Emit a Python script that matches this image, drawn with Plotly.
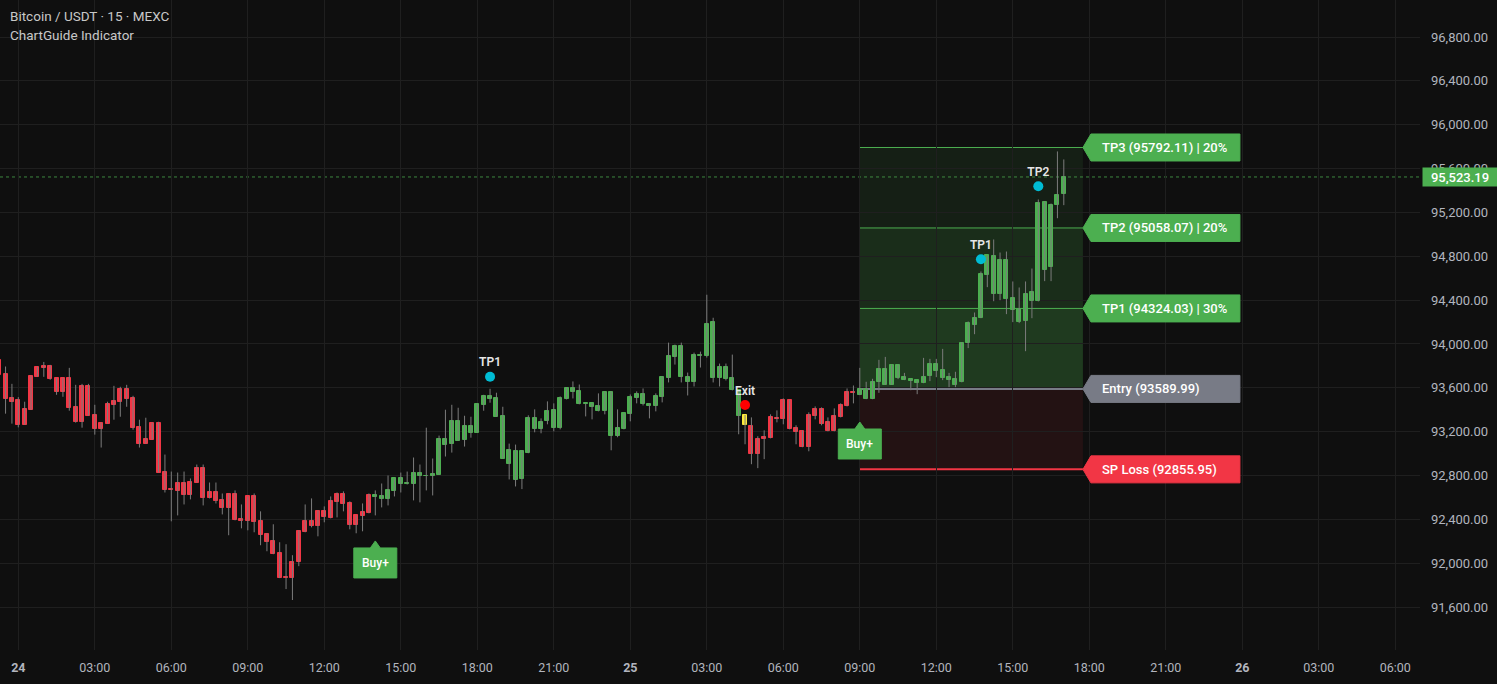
import pandas as pd
import plotly.graph_objects as go

# ---------------- data ----------------
FIRST_BAR = pd.Timestamp("2025-04-23 23:15")   # first (partly visible) 15-min bar
DAY0 = pd.Timestamp("2025-04-24 00:00")

opens = [93855, 93727, 93509, 93491, 93264, 93400, 93700, 93782, 93800, 93691, 93564, 93691,
         93427, 93291, 93618, 93355, 93227, 93273, 93445, 93473, 93591, 93509, 93245, 93091,
         93127, 93282, 92836, 92664, 92655, 92736, 92618, 92736, 92864, 92591, 92645, 92573,
         92500, 92627, 92400, 92382, 92609, 92382, 92264, 92200, 92091, 91864, 91864, 92009,
         92282, 92382, 92336, 92473, 92409, 92555, 92627, 92545, 92345, 92427, 92455, 92600,
         92609, 92582, 92655, 92773, 92727, 92727, 92827, 92800, 92791, 92809, 93136, 93091,
         93300, 93127, 93255, 93191, 93445, 93527, 93509, 93345, 92909, 93027, 92767, 93003,
         93321, 93221, 93294, 93394, 93230, 93494, 93594, 93567, 93449, 93458, 93385, 93385,
         93558, 93158, 93221, 93358, 93503, 93539, 93449, 93430, 93512, 93685, 93885, 93985,
         93703, 93649, 93903, 93894, 94203, 93685, 93794, 93685, 93576, 93349, 93249, 92994,
         93130, 93139, 93321, 93312, 93485, 93230, 93203, 93058, 93339, 93403, 93285, 93203,
         93330, 93430, 93558, 93533, 93591, 93496, 93652, 93773, 93627, 93809, 93697, 93661,
         93667, 93642, 93706, 93813, 93758, 93697, 93676, 93652, 94007, 94177, 94235, 94627,
         94798, 94460, 94770, 94415, 94317, 94208, 94390, 94390, 95299, 94700, 95266, 95366]
highs = [93870, 93794, 93636, 93515, 93473, 93712, 93791, 93836, 93809, 93691, 93691, 93782,
         93627, 93636, 93636, 93445, 93282, 93473, 93618, 93609, 93627, 93527, 93309, 93327,
         93282, 93290, 92991, 92836, 92827, 92836, 92773, 92900, 92900, 92736, 92736, 92636,
         92636, 92664, 92536, 92609, 92636, 92473, 92273, 92355, 92191, 92173, 92073, 92300,
         92536, 92591, 92482, 92518, 92609, 92645, 92655, 92564, 92436, 92545, 92636, 92664,
         92727, 92800, 92773, 92827, 92836, 92964, 92900, 93236, 92955, 93164, 93400, 93445,
         93418, 93345, 93336, 93455, 93536, 93591, 93555, 93427, 93091, 93082, 93030, 93349,
         93403, 93321, 93476, 93458, 93521, 93603, 93658, 93630, 93458, 93458, 93549, 93567,
         93567, 93403, 93367, 93539, 93567, 93594, 93458, 93549, 93703, 94012, 93994, 94012,
         93739, 93921, 93930, 94449, 94239, 93821, 93821, 93903, 93580, 93352, 93330, 93158,
         93212, 93358, 93394, 93503, 93490, 93258, 93212, 93376, 93430, 93421, 93330, 93412,
         93458, 93594, 93621, 93782, 93655, 93682, 93855, 93882, 93812, 93812, 93736, 93679,
         93667, 93873, 93864, 93864, 93955, 93736, 93746, 94016, 94205, 94287, 94661, 94807,
         94953, 94834, 94843, 94570, 94515, 94570, 94688, 95318, 95301, 95281, 95756, 95683]
lows = [93709, 93364, 93273, 93239, 93264, 93398, 93700, 93700, 93673, 93536, 93518, 93391,
        93282, 93236, 93345, 93173, 93055, 93273, 93309, 93336, 93427, 93218, 93055, 93091,
        93127, 92827, 92645, 92382, 92436, 92536, 92582, 92736, 92527, 92591, 92545, 92445,
        92255, 92391, 92318, 92300, 92282, 92164, 92109, 92082, 91864, 91764, 91664, 91973,
        92282, 92327, 92245, 92373, 92409, 92418, 92473, 92309, 92273, 92291, 92455, 92436,
        92509, 92527, 92609, 92645, 92718, 92573, 92555, 92664, 92618, 92809, 92973, 93009,
        93118, 93064, 93145, 93191, 93391, 93464, 93336, 92955, 92764, 92700, 92676, 93003,
        93194, 93185, 93267, 93203, 93221, 93494, 93503, 93449, 93339, 93312, 93385, 93358,
        93030, 93149, 93221, 93294, 93458, 93439, 93321, 93385, 93467, 93649, 93812, 93649,
        93530, 93612, 93785, 93876, 93649, 93612, 93667, 93576, 93176, 93085, 92903, 92867,
        92949, 93139, 93285, 93267, 93221, 93085, 93058, 93021, 93312, 93258, 93203, 93203,
        93330, 93430, 93458, 93533, 93496, 93496, 93554, 93627, 93627, 93679, 93670, 93578,
        93542, 93642, 93661, 93697, 93670, 93606, 93606, 93650, 93962, 94089, 94235, 94518,
        94390, 94399, 94272, 94199, 94190, 93934, 94235, 94388, 94573, 94573, 95147, 95266]
closes = [93721, 93500, 93467, 93264, 93409, 93709, 93791, 93800, 93682, 93564, 93691, 93418,
          93291, 93618, 93345, 93227, 93282, 93455, 93482, 93591, 93500, 93236, 93091, 93136,
          93282, 92827, 92664, 92673, 92736, 92618, 92745, 92864, 92591, 92645, 92564, 92500,
          92627, 92391, 92382, 92609, 92373, 92255, 92191, 92082, 91864, 91873, 92009, 92291,
          92382, 92336, 92473, 92418, 92564, 92627, 92536, 92345, 92436, 92464, 92618, 92618,
          92582, 92664, 92773, 92727, 92736, 92827, 92800, 92791, 92818, 93136, 93082, 93300,
          93118, 93255, 93191, 93455, 93527, 93500, 93336, 92955, 93036, 92755, 93021, 93321,
          93221, 93285, 93385, 93230, 93503, 93594, 93558, 93449, 93458, 93421, 93430, 93558,
          93158, 93230, 93367, 93512, 93539, 93449, 93430, 93521, 93694, 93894, 93985, 93694,
          93649, 93903, 93894, 94185, 93685, 93794, 93676, 93576, 93339, 93258, 92994, 93130,
          93149, 93330, 93312, 93485, 93221, 93194, 93058, 93349, 93403, 93267, 93203, 93339,
          93439, 93558, 93549, 93591, 93496, 93655, 93773, 93627, 93809, 93688, 93670, 93679,
          93642, 93697, 93813, 93752, 93688, 93670, 93624, 94013, 94187, 94241, 94634, 94807,
          94460, 94770, 94408, 94308, 94199, 94460, 94478, 95290, 94673, 95272, 95363, 95523.19]
# indicator trend colouring of each bar: r = bearish, g = bullish, y = exit bar
bar_state = list("r" * 59 + "g" * 58 + "y" + "r" * 17 + "g" * 33)

# signals (bar index counted from 24 00:00 in 15-min steps, price)
tp_hit_bar = [74, 151, 160]
tp_hit_price = [93701, 94772, 95438]
tp_hit_text = ["TP1", "TP1", "TP2"]
exit_bar = [114]
exit_price = [93443]
buy_bar = [56, 132]
buy_price = [92203, 93288]

# trade levels
entry_price = 93589.99
sl_price = 92855.95
tp_prices = [94324.03, 95058.07, 95792.11]
tp_names = ["TP1", "TP2", "TP3"]
tp_pcts = [30, 20, 20]
zone_start_bar = 132
zone_end_bar = 167
last_price = 95523.19

x_tick_hours = list(range(0, 57, 3))
x_tick_text = ["<b>24</b>", "03:00", "06:00", "09:00", "12:00", "15:00", "18:00", "21:00",
               "<b>25</b>", "03:00", "06:00", "09:00", "12:00", "15:00", "18:00", "21:00",
               "<b>26</b>", "03:00", "06:00"]
y_ticks = [91600, 92000, 92400, 92800, 93200, 93600, 94000, 94400, 94800, 95200, 95600,
           96000, 96400, 96800]

# ---------------- styling ----------------
BG = "#0f0f0f"
GRID = "#1f1f1f"
RED = "#f23645"
GREEN = "#4caf50"
YELLOW = "#ffeb3b"
GREY = "#787b86"
WICK = "#7c7c7c"
COL = {"r": RED, "g": GREEN, "y": YELLOW}

W, H = 1497, 684
ML, MR, MT, MB = 0, 77, 0, 34
PW, PH = W - ML - MR, H - MT - MB
Y0, Y1 = 91208.2, 97137.5
PX_PER_BAR = 6.375
MIN_PER_PX = 15 / PX_PER_BAR
PRICE_PER_PX = (Y1 - Y0) / PH
X0 = DAY0 + pd.Timedelta(minutes=-18.3 * MIN_PER_PX)
X1 = X0 + pd.Timedelta(minutes=PW * MIN_PER_PX)


def bar_time(i):
    return DAY0 + pd.Timedelta(minutes=15 * i)


def shift_px(t, px):
    return t + pd.Timedelta(minutes=px * MIN_PER_PX)


times = [FIRST_BAR + pd.Timedelta(minutes=15 * k) for k in range(len(opens))]

fig = go.Figure()

# wicks
wx, wy = [], []
for t, h, l in zip(times, highs, lows):
    wx += [t, t, None]
    wy += [h, l, None]
fig.add_trace(go.Scatter(x=wx, y=wy, mode="lines", line=dict(color=WICK, width=1),
                         hoverinfo="skip", showlegend=False))

# bodies
cols = [COL[s] for s in bar_state]
fig.add_trace(go.Bar(
    x=times,
    base=[min(o, c) for o, c in zip(opens, closes)],
    y=[abs(c - o) for o, c in zip(opens, closes)],
    width=0.64 * 15 * 60 * 1000,
    marker=dict(color=cols, line=dict(color=cols, width=1)),
    hoverinfo="skip", showlegend=False))

shapes = []
zs, ze = bar_time(zone_start_bar), bar_time(zone_end_bar)
# profit zones (stacked translucent) and loss zone
for tp in tp_prices:
    shapes.append(dict(type="rect", xref="x", yref="y", x0=zs, x1=ze, y0=entry_price, y1=tp,
                       fillcolor="rgba(76,175,80,0.10)", line=dict(width=0), layer="below"))
shapes.append(dict(type="rect", xref="x", yref="y", x0=zs, x1=ze, y0=sl_price, y1=entry_price,
                   fillcolor="rgba(242,54,69,0.09)", line=dict(width=0), layer="below"))
for tp in tp_prices:
    shapes.append(dict(type="line", xref="x", yref="y", x0=zs, x1=ze, y0=tp, y1=tp,
                       line=dict(color=GREEN, width=1), layer="below"))
shapes.append(dict(type="line", xref="x", yref="y", x0=zs, x1=ze, y0=entry_price, y1=entry_price,
                   line=dict(color=GREY, width=2), layer="below"))
shapes.append(dict(type="line", xref="x", yref="y", x0=zs, x1=ze, y0=sl_price, y1=sl_price,
                   line=dict(color=RED, width=2), layer="below"))
# last price dotted line
shapes.append(dict(type="line", xref="paper", yref="y", x0=0, x1=1, y0=last_price, y1=last_price,
                   line=dict(color="rgba(76,175,80,0.75)", width=1, dash="dot"), layer="below"))

annotations = []


def add_tag(price, text, color):
    hh = 13.5 * PRICE_PER_PX
    xs = [ze, shift_px(ze, 8), shift_px(ze, 157), shift_px(ze, 157), shift_px(ze, 8), ze]
    ys = [price, price + hh, price + hh, price - hh, price - hh, price]
    fig.add_trace(go.Scatter(x=xs, y=ys, mode="lines", fill="toself", fillcolor=color,
                             line=dict(color=color, width=1), hoverinfo="skip", showlegend=False))
    annotations.append(dict(x=shift_px(ze, 17), y=price, xref="x", yref="y", text=text,
                            showarrow=False, xanchor="left", yanchor="middle",
                            font=dict(color="white", size=13, family="Roboto", weight=500)))


for name, p, pct in zip(tp_names[::-1], tp_prices[::-1], tp_pcts[::-1]):
    add_tag(p, f"{name} ({p:.2f}) | {pct}%", GREEN)
add_tag(entry_price, f"Entry ({entry_price:.2f})", GREY)
add_tag(sl_price, f"SP Loss ({sl_price:.2f})", RED)

# Buy+ labels
for b, p in zip(buy_bar, buy_price):
    t = bar_time(b)
    a = 7 * PRICE_PER_PX
    bh = 37 * PRICE_PER_PX
    xs = [t, shift_px(t, 5), shift_px(t, 21.5), shift_px(t, 21.5), shift_px(t, -21.5),
          shift_px(t, -21.5), shift_px(t, -5), t]
    ys = [p, p - a, p - a, p - bh, p - bh, p - a, p - a, p]
    fig.add_trace(go.Scatter(x=xs, y=ys, mode="lines", fill="toself", fillcolor=GREEN,
                             line=dict(color=GREEN, width=1), hoverinfo="skip", showlegend=False))
    annotations.append(dict(x=t, y=p - 22 * PRICE_PER_PX, xref="x", yref="y", text="Buy+",
                            showarrow=False, xanchor="center", yanchor="middle",
                            font=dict(color="white", size=12, family="Roboto", weight=500)))

# TP hit dots and exit dot
fig.add_trace(go.Scatter(x=[bar_time(b) for b in tp_hit_bar], y=tp_hit_price,
                         mode="markers+text", text=tp_hit_text, textposition="top center",
                         textfont=dict(color="#e6e6e6", size=12, family="Roboto", weight=600),
                         marker=dict(color="#00bcd4", size=10), hoverinfo="skip", showlegend=False))
fig.add_trace(go.Scatter(x=[bar_time(b) for b in exit_bar], y=exit_price,
                         mode="markers+text", text=["Exit"], textposition="top center",
                         textfont=dict(color="#e6e6e6", size=12, family="Roboto", weight=600),
                         marker=dict(color="#ff0000", size=10), hoverinfo="skip", showlegend=False))

# header
annotations.append(dict(x=8 / PW, y=1 - 16 / PH, xref="paper", yref="paper",
                        text="Bitcoin / USDT · 15 · MEXC", showarrow=False,
                        xanchor="left", yanchor="middle",
                        font=dict(color="#c8c8c8", size=13.5, family="Roboto")))
annotations.append(dict(x=8 / PW, y=1 - 35 / PH, xref="paper", yref="paper",
                        text="ChartGuide Indicator", showarrow=False,
                        xanchor="left", yanchor="middle",
                        font=dict(color="#c8c8c8", size=13.5, family="Roboto")))
# last price label on the axis
annotations.append(dict(x=1, y=last_price, xref="paper", yref="y", text=f"{last_price:,.2f}",
                        showarrow=False, xanchor="left", yanchor="middle", xshift=2,
                        bgcolor=GREEN, borderpad=2, width=70, height=14,
                        font=dict(color="white", size=13, family="Roboto", weight=500)))

fig.update_layout(
    width=W, height=H,
    margin=dict(l=ML, r=MR, t=MT, b=MB),
    paper_bgcolor=BG, plot_bgcolor=BG,
    shapes=shapes, annotations=annotations,
    bargap=0, showlegend=False,
    xaxis=dict(type="date", range=[X0, X1],
               tickvals=[DAY0 + pd.Timedelta(hours=h) for h in x_tick_hours],
               ticktext=x_tick_text, showgrid=True, gridcolor=GRID, gridwidth=1,
               zeroline=False, showline=False, ticks="", ticklabelstandoff=8,
               tickfont=dict(color="#b2b5be", size=12.5, family="Roboto"), fixedrange=True),
    yaxis=dict(side="right", range=[Y0, Y1], tickvals=y_ticks, tickformat=",.2f",
               showgrid=True, gridcolor=GRID, gridwidth=1, zeroline=False, showline=False,
               ticks="", ticklabelstandoff=10,
               tickfont=dict(color="#b2b5be", size=13, family="Roboto"), fixedrange=True),
)

fig.write_html("out.html", config={"displayModeBar": False},
               post_script="document.body.style.margin='0';document.body.style.background='#0f0f0f';")
